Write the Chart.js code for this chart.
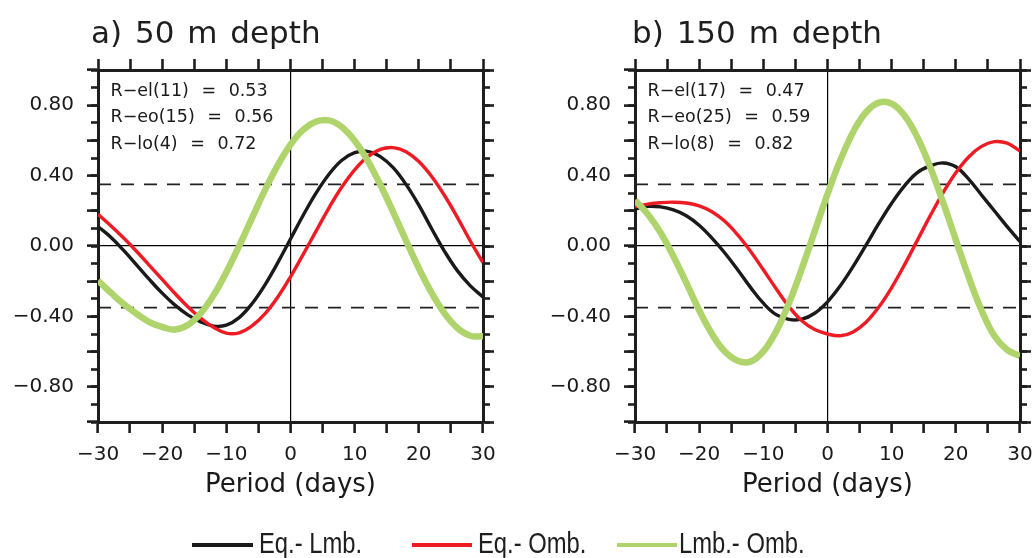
<!DOCTYPE html>
<html>
<head>
<meta charset="utf-8">
<script src="https://cdn.jsdelivr.net/npm/chart.js@4.4.1/dist/chart.umd.min.js"></script>
<style>
html,body{margin:0;padding:0;background:#fff;}
#wrap{position:relative;width:1033px;height:558px;overflow:hidden;background:#fff;}
canvas{position:absolute;top:0;}
.ttl{position:absolute;top:14px;font-family:'DejaVu Sans';font-size:31px;line-height:36px;word-spacing:3px;color:#1e1e1e;white-space:nowrap;}
.stats{position:absolute;top:76.5px;font-family:'DejaVu Sans';font-size:17.5px;line-height:26.5px;word-spacing:7px;color:#1a1a1a;white-space:nowrap;}
.leg{position:absolute;top:528px;font-family:'Liberation Sans',Arial,sans-serif;font-size:29px;line-height:30px;color:#1e1e1e;white-space:nowrap;transform:scaleX(0.82);transform-origin:0 0;}
.legline{position:absolute;top:543px;height:4px;}
</style>
</head>
<body>
<div id="wrap">
  <canvas id="cA" width="520" height="558" style="left:0px"></canvas>
  <canvas id="cB" width="520" height="558" style="left:537px"></canvas>
  <div id="tA" class="ttl" style="left:91px"></div>
  <div id="tB" class="ttl" style="left:632px"></div>
  <div id="sA" class="stats" style="left:110.5px"></div>
  <div id="sB" class="stats" style="left:647.5px"></div>
  <div id="legend"></div>
</div>
<script>
// ---------------- data ----------------
const days = [-30,-28,-26,-24,-22,-20,-18,-16,-14,-12,-10,-8,-6,-4,-2,0,2,4,6,8,10,12,14,16,18,20,22,24,26,28,30];

// panel a) 50 m depth
const elA = [0.11,0.05,-0.025,-0.107,-0.19,-0.268,-0.336,-0.391,-0.431,-0.455,-0.45,-0.407,-0.328,-0.222,-0.096,0.04,0.176,0.302,0.408,0.487,0.53,0.538,0.508,0.445,0.35,0.232,0.098,-0.03,-0.14,-0.225,-0.29];
const eoA = [0.18,0.115,0.045,-0.03,-0.11,-0.19,-0.27,-0.345,-0.41,-0.462,-0.495,-0.493,-0.454,-0.386,-0.291,-0.175,-0.046,0.086,0.217,0.335,0.433,0.506,0.549,0.559,0.536,0.48,0.395,0.287,0.163,0.03,-0.095];
const loA = [-0.197,-0.265,-0.33,-0.385,-0.432,-0.46,-0.475,-0.449,-0.383,-0.28,-0.149,0.001,0.159,0.316,0.458,0.576,0.661,0.707,0.714,0.676,0.598,0.487,0.348,0.193,0.031,-0.126,-0.267,-0.383,-0.466,-0.51,-0.513];

// panel b) 150 m depth
const elB = [0.21,0.225,0.222,0.205,0.172,0.118,0.045,-0.04,-0.135,-0.235,-0.325,-0.39,-0.417,-0.416,-0.382,-0.317,-0.226,-0.116,0.005,0.128,0.243,0.342,0.417,0.455,0.472,0.45,0.38,0.29,0.2,0.11,0.025];
const eoB = [0.224,0.238,0.246,0.249,0.244,0.228,0.195,0.14,0.063,-0.03,-0.135,-0.243,-0.345,-0.425,-0.475,-0.5,-0.51,-0.488,-0.433,-0.347,-0.236,-0.107,0.032,0.171,0.302,0.416,0.506,0.566,0.593,0.584,0.54];
const loB = [0.26,0.18,0.075,-0.06,-0.21,-0.365,-0.5,-0.6,-0.652,-0.657,-0.599,-0.485,-0.324,-0.129,0.083,0.295,0.488,0.648,0.76,0.815,0.809,0.741,0.618,0.449,0.249,0.035,-0.176,-0.365,-0.51,-0.59,-0.625];

const sigLevel = [0.35, -0.35];
const xTicks = [-30,-20,-10,0,10,20,30];
const yTicks = [-0.8,-0.4,0,0.4,0.8];
const titles = ['a) 50 m depth', 'b) 150 m depth'];
const statsA = ['R\u2212el(11) = 0.53', 'R\u2212eo(15) = 0.56', 'R\u2212lo(4) = 0.72'];
const statsB = ['R\u2212el(17) = 0.47', 'R\u2212eo(25) = 0.59', 'R\u2212lo(8) = 0.82'];
const seriesNames = ['Eq.- Lmb.', 'Eq.- Omb.', 'Lmb.- Omb.'];
const xTitle = 'Period (days)';

// ---------------- style ----------------
const COL = ['#1a1a1a', '#ed1c24', '#afd46c'];
const WID = [3.4, 3.4, 6.5];
const AX = '#1e1e1e';
const TXT = '#1a1a1a';
const FONT = 'DejaVu Sans';

function fmtY(v){ const r = Math.round(v*100)/100; return (r < 0 ? '\u2212' : '') + Math.abs(r).toFixed(2); }
function fmtX(v){ const r = Math.round(v); return (r < 0 ? '\u2212' : '') + Math.abs(r); }
const isZero = c => c.tick && Math.abs(c.tick.value) < 1e-9;

function makePanel(id, series){
  const pts = arr => days.map((d,i) => ({x: d, y: arr[i]}));
  const datasets = series.map((arr, k) => ({
    label: seriesNames[k], data: pts(arr), borderColor: COL[k], borderWidth: WID[k],
    pointRadius: 0, tension: 0.4, fill: false, clip: 0, order: 3 - k,
    borderCapStyle: 'butt', borderJoinStyle: 'round'
  }));
  sigLevel.forEach(v => datasets.push({
    data: [{x: days[0], y: v}, {x: days[days.length-1], y: v}],
    borderColor: '#222', borderWidth: 1.6, borderDash: [13, 10],
    pointRadius: 0, tension: 0, fill: false, clip: 0, order: 5
  }));
  const tickFont = {family: FONT, size: 20};
  const minorY = (pos) => ({
    type: 'linear', position: pos, weight: 0, min: -1, max: 1,
    ticks: {stepSize: 0.1, maxTicksLimit: 100, display: false},
    grid: {drawOnChartArea: false, tickColor: AX, tickWidth: 2.6, tickLength: 7},
    border: {display: false},
    afterFit: s => { s.width = 0; }
  });
  new Chart(document.getElementById(id), {
    type: 'line',
    data: {datasets},
    options: {
      responsive: false, animation: false, devicePixelRatio: 1,
      layout: {padding: 0},
      plugins: {legend: {display: false}, tooltip: {enabled: false}, title: {display: false}},
      scales: {
        x: {
          type: 'linear', position: 'bottom', min: -30, max: 30,
          ticks: {stepSize: 5, autoSkip: false, maxRotation: 0, padding: 10, color: TXT, font: tickFont,
                  callback: v => xTicks.some(t => Math.abs(t - v) < 1e-6) ? fmtX(v) : ''},
          grid: {color: c => isZero(c) ? '#000' : 'rgba(0,0,0,0)', lineWidth: 1.2,
                 tickColor: AX, tickWidth: 2.6, tickLength: 11},
          border: {display: true, color: AX, width: 3},
          title: {display: true, text: xTitle, color: TXT, font: {family: FONT, size: 26}, padding: {top: 0, bottom: 57}},
          afterFit: s => { s.height = 136; }
        },
        x2: {
          type: 'linear', position: 'top', min: -30, max: 30,
          ticks: {stepSize: 5, display: false},
          grid: {drawOnChartArea: false, tickColor: AX, tickWidth: 2.6, tickLength: 11},
          border: {display: true, color: AX, width: 3},
          afterFit: s => { s.height = 70; }
        },
        y: {
          type: 'linear', position: 'left', weight: 1, min: -1, max: 1,
          ticks: {stepSize: 0.2, maxTicksLimit: 100, padding: 13, color: TXT, font: tickFont,
                  callback: v => yTicks.some(t => Math.abs(t - v) < 1e-6) ? fmtY(v) : ''},
          grid: {color: c => isZero(c) ? '#000' : 'rgba(0,0,0,0)', lineWidth: 1.2,
                 tickColor: AX, tickWidth: 2.6, tickLength: 11},
          border: {display: true, color: AX, width: 3},
          afterFit: s => { s.width = 98; }
        },
        yMinL: minorY('left'),
        yR: {
          type: 'linear', position: 'right', weight: 1, min: -1, max: 1,
          ticks: {stepSize: 0.2, maxTicksLimit: 100, display: false},
          grid: {drawOnChartArea: false, tickColor: AX, tickWidth: 2.6, tickLength: 11},
          border: {display: true, color: AX, width: 3},
          afterFit: s => { s.width = 37; }
        },
        yMinR: minorY('right')
      }
    }
  });
}

makePanel('cA', [elA, eoA, loA]);
makePanel('cB', [elB, eoB, loB]);

// ---------------- texts ----------------
document.getElementById('tA').textContent = titles[0];
document.getElementById('tB').textContent = titles[1];
function fillStats(id, lines){
  const el = document.getElementById(id);
  lines.forEach(t => { const d = document.createElement('div'); d.textContent = t; el.appendChild(d); });
}
fillStats('sA', statsA);
fillStats('sB', statsB);

const legLines = [[192, 253], [412, 472], [617, 677]];
const legText = [259, 478, 679];
const leg = document.getElementById('legend');
seriesNames.forEach((n, k) => {
  const l = document.createElement('div');
  l.className = 'legline';
  l.style.left = legLines[k][0] + 'px';
  l.style.width = (legLines[k][1] - legLines[k][0]) + 'px';
  l.style.background = COL[k];
  leg.appendChild(l);
  const t = document.createElement('div');
  t.className = 'leg';
  t.style.left = legText[k] + 'px';
  t.textContent = n;
  leg.appendChild(t);
});
</script>
</body>
</html>
